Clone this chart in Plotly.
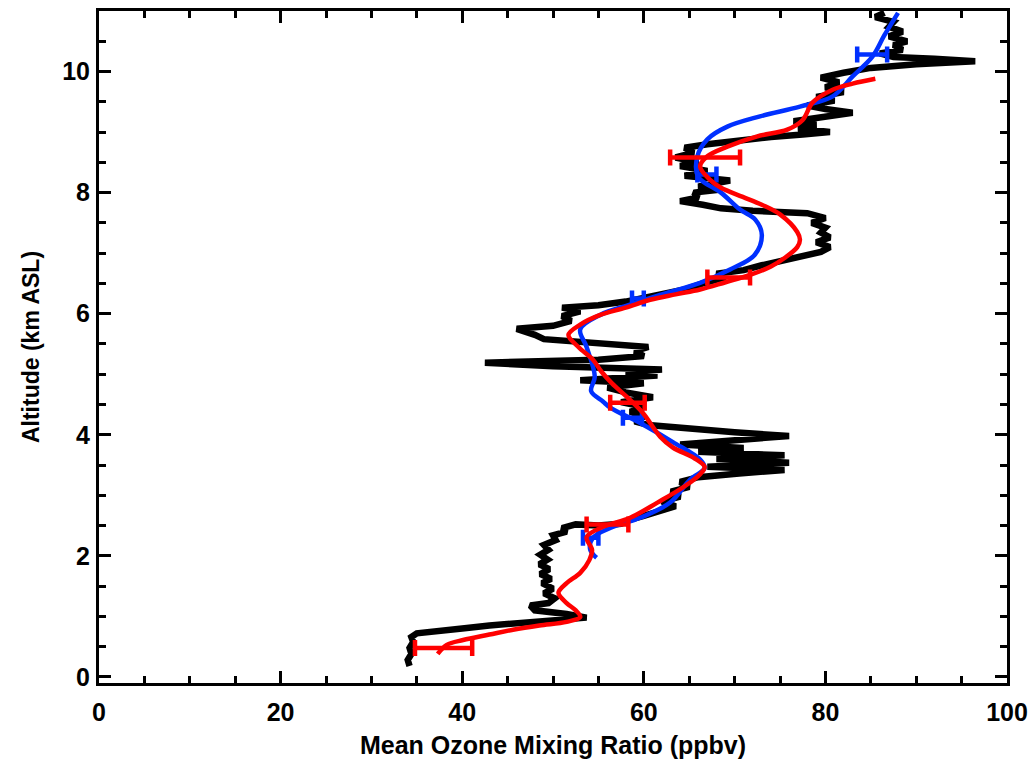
import plotly.graph_objects as go

# ---- Data ----
# High-resolution ozonesonde-like profile (black)
black_x = [34.2, 34.0, 34.4, 34.2, 34.6, 34.4, 35.0, 37.5, 40.0, 43.0, 46.5, 50.0, 53.7, 51.5, 48.0,
           47.5, 49.5, 50.2, 49.0, 50.0, 48.8, 49.8, 48.6, 49.6, 48.5, 49.4, 48.6, 49.5, 49.0, 50.3,
           50.0, 51.5, 51.0, 52.5, 55.0, 57.5, 58.5, 60.0, 61.5, 63.5, 62.0, 64.0, 63.0, 65.0, 64.0,
           66.0, 70.5, 75.5, 67.0, 76.0, 68.0, 75.5, 66.0, 71.0, 64.0, 68.5, 76.0, 70.0, 64.0, 60.5,
           59.0, 60.0, 58.5, 60.0, 57.5, 61.0, 58.0, 56.0, 60.0, 53.0, 61.5, 58.0, 62.0, 50.0, 42.5,
           55.0, 60.0, 59.0, 60.5, 55.0, 49.0, 48.0, 46.0, 50.0, 52.0, 51.0, 53.0, 51.0, 55.0, 58.0,
           60.0, 62.0, 64.5, 66.5, 69.0, 68.0, 71.0, 73.0, 75.0, 77.5, 79.5, 80.5, 79.0, 80.5, 79.5,
           80.0, 78.5, 80.0, 78.0, 72.0, 68.5, 66.5, 64.0, 66.0, 65.5, 68.5, 66.0, 69.5, 64.5, 67.0,
           64.0, 66.0, 63.5, 65.5, 64.5, 67.0, 70.0, 74.0, 77.5, 80.5, 77.0, 79.0, 76.5, 79.5, 83.0,
           80.0, 78.0, 81.0, 79.0, 82.0, 80.0, 81.5, 79.5, 82.0, 85.0, 90.0, 96.5, 92.0, 87.5, 86.0,
           88.5, 87.5, 89.0, 87.0, 88.5, 87.0, 87.5, 85.5, 86.5]
black_y = [0.18, 0.28, 0.38, 0.48, 0.58, 0.66, 0.72, 0.75, 0.80, 0.85, 0.90, 0.94, 0.98, 1.04, 1.10,
           1.18, 1.22, 1.30, 1.38, 1.46, 1.55, 1.62, 1.70, 1.78, 1.86, 1.94, 2.02, 2.10, 2.18, 2.26,
           2.34, 2.40, 2.46, 2.52, 2.50, 2.53, 2.60, 2.66, 2.74, 2.82, 2.90, 2.98, 3.06, 3.14, 3.22,
           3.30, 3.36, 3.42, 3.47, 3.54, 3.60, 3.66, 3.72, 3.78, 3.84, 3.90, 3.98, 4.04, 4.10, 4.16,
           4.22, 4.30, 4.38, 4.46, 4.54, 4.62, 4.70, 4.78, 4.85, 4.90, 4.98, 5.03, 5.08, 5.13, 5.19,
           5.24, 5.30, 5.38, 5.45, 5.52, 5.58, 5.65, 5.75, 5.80, 5.88, 5.96, 6.04, 6.10, 6.14, 6.20,
           6.26, 6.32, 6.40, 6.50, 6.60, 6.66, 6.72, 6.80, 6.86, 6.94, 7.02, 7.10, 7.18, 7.26, 7.34,
           7.42, 7.50, 7.58, 7.66, 7.70, 7.74, 7.80, 7.86, 7.92, 8.00, 8.05, 8.10, 8.20, 8.28, 8.36,
           8.44, 8.50, 8.58, 8.66, 8.74, 8.80, 8.86, 8.92, 8.96, 9.00, 9.06, 9.12, 9.18, 9.24, 9.32,
           9.38, 9.44, 9.52, 9.58, 9.66, 9.74, 9.82, 9.90, 9.98, 10.06, 10.12, 10.17, 10.21, 10.24, 10.30,
           10.36, 10.44, 10.50, 10.58, 10.66, 10.74, 10.82, 10.90, 10.97]

# Smoothed profile (red)
red_x = [37.3, 38.3, 40.1, 43.0, 45.6, 48.5, 51.5, 53.0, 52.5, 51.5, 50.6, 51.5, 53.0, 54.0, 54.3,
         53.7, 55.5, 58.5, 61.5, 64.5, 66.2, 66.7, 65.5, 63.2, 61.8, 59.9, 58.1, 56.5, 55.3, 54.4,
         52.8, 51.7, 53.0, 55.2, 58.0, 60.7, 63.5, 66.2, 69.0, 71.7, 74.0, 75.5, 76.9, 77.2, 76.9,
         75.0, 73.0, 70.9, 68.5, 67.3, 66.2, 67.0, 69.2, 72.5, 75.8, 77.5, 78.6, 80.8, 83.0, 85.5]
red_y = [0.38, 0.53, 0.61, 0.70, 0.78, 0.85, 0.91, 0.99, 1.10, 1.22, 1.39, 1.55, 1.72, 1.93, 2.10,
         2.31, 2.48, 2.63, 2.88, 3.15, 3.35, 3.47, 3.62, 3.79, 3.97, 4.36, 4.63, 4.85, 5.05, 5.24,
         5.45, 5.65, 5.82, 5.98, 6.10, 6.23, 6.32, 6.40, 6.52, 6.64, 6.78, 6.92, 7.10, 7.22, 7.35,
         7.64, 7.80, 7.93, 8.08, 8.21, 8.43, 8.60, 8.76, 8.93, 9.04, 9.20, 9.49, 9.70, 9.80, 9.88]

# Smoothed profile (blue)
blue_x = [54.8, 54.1, 54.4, 56.3, 59.6, 62.9, 65.1, 66.7, 66.2, 63.2, 59.9, 56.3, 55.5, 54.2, 54.6,
          53.7, 53.0, 55.2, 58.5, 61.8, 66.2, 69.5, 72.2, 73.0, 72.3, 70.6, 68.5, 66.0, 65.9, 67.0,
          69.2, 72.8, 77.2, 80.8, 83.0, 85.2, 86.5, 88.0]
blue_y = [1.97, 2.10, 2.30, 2.46, 2.63, 2.88, 3.26, 3.45, 3.59, 3.88, 4.17, 4.45, 4.55, 4.72, 4.96,
          5.45, 5.74, 5.98, 6.15, 6.31, 6.51, 6.73, 6.97, 7.30, 7.55, 7.72, 8.00, 8.26, 8.60, 8.88,
          9.09, 9.26, 9.42, 9.59, 9.92, 10.25, 10.60, 10.97]

# Error bars (center, altitude, half-width)
red_err_x = [37.95, 56.0, 58.2, 69.35, 66.75]
red_err_y = [0.48, 2.52, 4.53, 6.60, 8.58]
red_err_w = [3.15, 2.3, 1.9, 2.35, 3.85]

blue_err_x = [54.15, 58.75, 59.35, 66.95, 85.15]
blue_err_y = [2.30, 4.28, 6.25, 8.30, 10.28]
blue_err_w = [0.85, 1.05, 0.65, 1.05, 1.65]

RED = "#ff0000"
BLUE = "#0030ff"

fig = go.Figure()
fig.add_trace(go.Scatter(x=black_x, y=black_y, mode="lines",
                         line=dict(color="black", width=6.5), showlegend=False))
fig.add_trace(go.Scatter(x=blue_x, y=blue_y, mode="lines", line_shape="spline",
                         line=dict(color=BLUE, width=4.5), showlegend=False))
fig.add_trace(go.Scatter(x=blue_err_x, y=blue_err_y, mode="markers",
                         marker=dict(size=1, color=BLUE),
                         error_x=dict(type="data", array=blue_err_w, color=BLUE, thickness=4.5, width=8),
                         showlegend=False))
fig.add_trace(go.Scatter(x=red_x, y=red_y, mode="lines", line_shape="spline",
                         line=dict(color=RED, width=4.5), showlegend=False))
fig.add_trace(go.Scatter(x=red_err_x, y=red_err_y, mode="markers",
                         marker=dict(size=1, color=RED),
                         error_x=dict(type="data", array=red_err_w, color=RED, thickness=4.5, width=8),
                         showlegend=False))

tickfont = dict(family="Liberation Sans, Arial, sans-serif", size=25, color="black", weight="bold")
xtitlefont = dict(family="Liberation Sans, Arial, sans-serif", size=25, color="black", weight="bold")
ytitlefont = dict(family="Liberation Sans, Arial, sans-serif", size=23, color="black", weight="bold")

fig.update_layout(
    width=1036, height=759,
    margin=dict(l=99, r=29, t=11, b=76, autoexpand=False),
    paper_bgcolor="white", plot_bgcolor="white",
    xaxis=dict(range=[0, 100], tickmode="linear", tick0=0, dtick=20, automargin=False,
               ticks="inside", ticklen=12, tickwidth=3, tickcolor="black",
               minor=dict(dtick=5, ticks="inside", ticklen=7, tickwidth=2.5, tickcolor="black"),
               showline=True, linewidth=3, linecolor="black", mirror="allticks",
               showgrid=False, zeroline=False, tickfont=tickfont, ticklabelstandoff=5,
               title=dict(text="Mean Ozone Mixing Ratio (ppbv)", font=xtitlefont, standoff=17)),
    yaxis=dict(range=[-0.1, 11], tickmode="linear", tick0=0, dtick=2, automargin=False,
               ticks="inside", ticklen=12, tickwidth=3, tickcolor="black",
               minor=dict(dtick=0.5, ticks="inside", ticklen=7, tickwidth=2.5, tickcolor="black"),
               showline=True, linewidth=3, linecolor="black", mirror="allticks",
               showgrid=False, zeroline=False, tickfont=tickfont, ticklabelstandoff=1,
               title=dict(text="Altitude (km ASL)", font=ytitlefont, standoff=17)),
)

fig.write_html("out.html")
